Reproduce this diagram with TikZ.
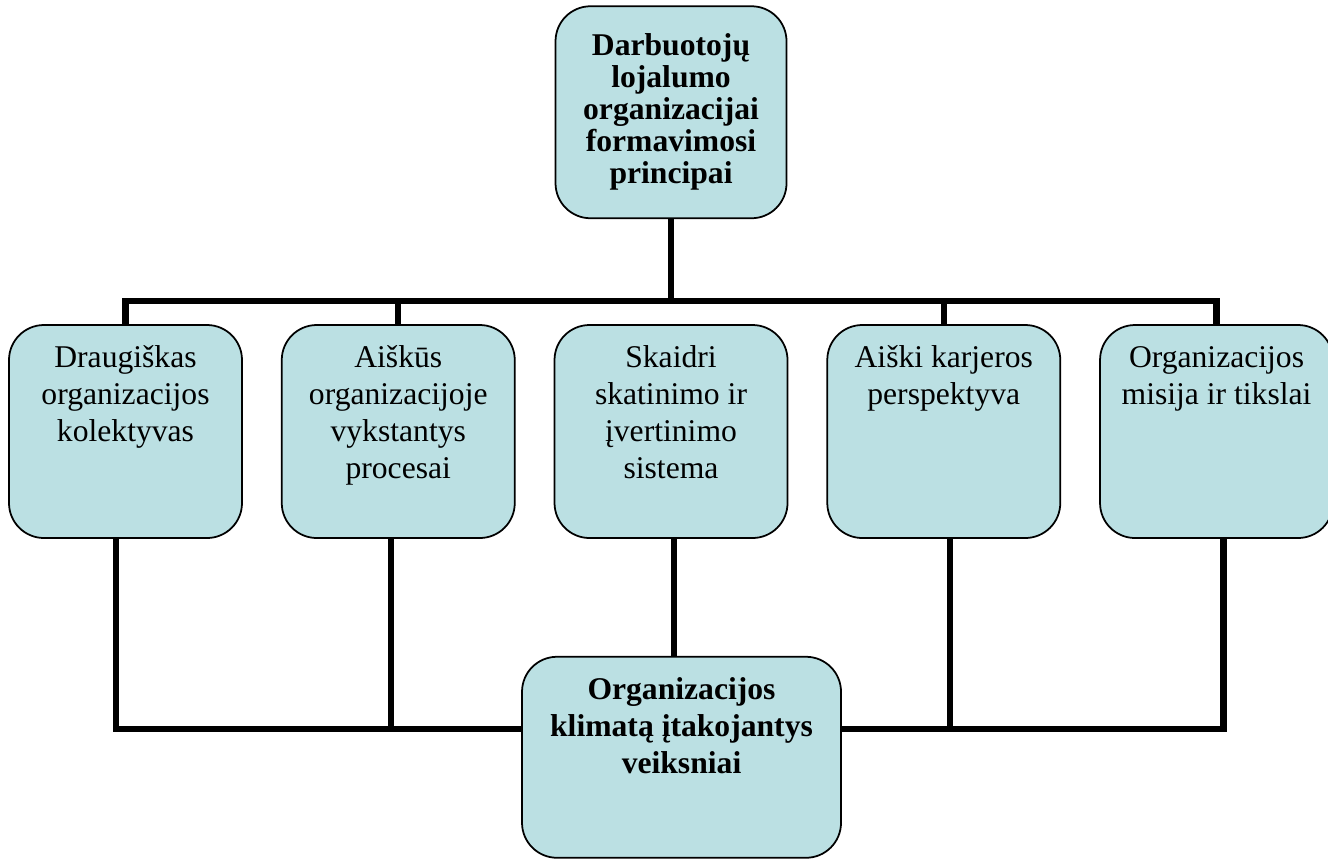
\documentclass[tikz,border=0pt]{standalone}
\usepackage{fontspec}
\setmainfont{Liberation Serif}
\usetikzlibrary{positioning, calc, backgrounds}
\definecolor{celeste}{HTML}{BBE0E3}
\newcommand{\textocaja}[3]{\parbox[c][#2][t]{#1}{\centering\rule{0pt}{0.85cm}#3}}
\tikzset{
  caja/.style={rectangle, rounded corners=0.7cm, draw=black, line width=1pt, fill=celeste,
               inner sep=0pt, font=\fontsize{18}{21}\selectfont},
  cajaraiz/.style={rectangle, rounded corners=0.7cm, draw=black, line width=1pt, fill=celeste,
               minimum width=4.62cm, minimum height=4.24cm, align=center,
               font=\bfseries\fontsize{18}{18.2}\selectfont},
  conector/.style={line width=3.6pt, line cap=rect}
}

\begin{document}
\begin{tikzpicture}[node distance=0.76cm]
  \useasboundingbox (0,0) rectangle (26.56,-17.16);
  \node (e1) [caja] at (2.51,-8.63) {\textocaja{4.66cm}{4.26cm}{Draugiškas\\ organizacijos\\ kolektyvas}};
  \node (e2) [caja, right=of e1] {\textocaja{4.66cm}{4.26cm}{Aiškūs\\ organizacijoje\\ vykstantys\\ procesai}};
  \node (e3) [caja, right=of e2] {\textocaja{4.66cm}{4.26cm}{Skaidri\\ skatinimo ir\\ įvertinimo\\ sistema}};
  \node (e4) [caja, right=of e3] {\textocaja{4.66cm}{4.26cm}{Aiški karjeros\\ perspektyva}};
  \node (e5) [caja, right=of e4] {\textocaja{4.66cm}{4.26cm}{Organizacijos\\ misija ir tikslai}};
  \node (raiz) [cajaraiz, above=2.1cm of e3] {Darbuotojų\\ lojalumo\\ organizacijai\\ formavimosi\\ principai};
  \node (clima) [caja, below=2.34cm of e3, xshift=0.21cm] {\textocaja{6.38cm}{4.02cm}{\bfseries Organizacijos\\ klimatą įtakojantys\\ veiksniai}};
  % lineas de union
  \coordinate (barra) at ($(e3.north)+(0,0.46)$);
  \coordinate (barrab) at ($(e3.south)+(0,-3.8)$);
  \coordinate (p1) at ($(e1.center)+(-0.19,0)$);
  \coordinate (p2) at ($(e2.center)+(-0.14,0)$);
  \coordinate (p3) at ($(e3.center)+(0.06,0)$);
  \coordinate (p4) at ($(e4.center)+(0.12,0)$);
  \coordinate (p5) at ($(e5.center)+(0.14,0)$);
  \begin{scope}[on background layer]
    \draw [conector] (raiz) -- (raiz |- barra);
    \draw [conector] (e1) |- (barra) -| (e5);
    \draw [conector] (e2) -- (e2 |- barra);
    \draw [conector] (e4) -- (e4 |- barra);
    \draw [conector] (p1) |- (barrab) -| (p5);
    \draw [conector] (p2) -- (p2 |- barrab);
    \draw [conector] (p4) -- (p4 |- barrab);
    \draw [conector] (p3) -- (p3 |- clima);
  \end{scope}
\end{tikzpicture}
\end{document}
